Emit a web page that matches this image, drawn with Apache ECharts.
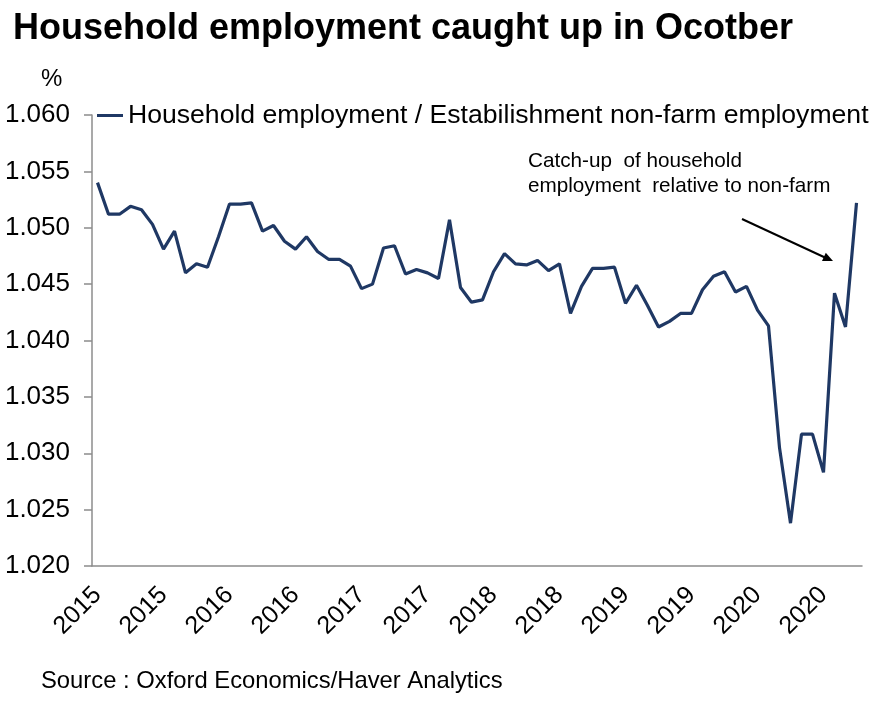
<!DOCTYPE html>
<html>
<head>
<meta charset="utf-8">
<script src="https://cdn.jsdelivr.net/npm/echarts@6/dist/echarts.min.js"></script>
<style>
  html, body { margin: 0; padding: 0; background: #fff; }
  #chart { width: 885px; height: 708px; }
</style>
</head>
<body>
<div id="chart"></div>
<script>
// monthly, Jan 2015 .. Oct 2020
let years = [2015, 2016, 2017, 2018, 2019, 2020]
let months = []
years.forEach(function (y) {
  for (let m = 1; m <= 12; m++) {
    if (y === 2020 && m > 10) break
    months.push(y + '-' + (m < 10 ? '0' + m : m))
  }
})

// Household employment / Establishment non-farm employment
let ratio = [
  1.0540, 1.0512, 1.0512, 1.0519, 1.0516, 1.0503, 1.0481, 1.0497, 1.0460, 1.0468, 1.0465, 1.0492,
  1.0521, 1.0521, 1.0522, 1.0497, 1.0502, 1.0488, 1.0481, 1.0492, 1.0479, 1.0472, 1.0472, 1.0466,
  1.0446, 1.0450, 1.0482, 1.0484, 1.0459, 1.0463, 1.0460, 1.0455, 1.0507, 1.0447, 1.0434, 1.0436,
  1.0461, 1.0477, 1.0468, 1.0467, 1.0471, 1.0462, 1.0468, 1.0424, 1.0448, 1.0464, 1.0464, 1.0465,
  1.0433, 1.0449, 1.0431, 1.0412, 1.0417, 1.0424, 1.0424, 1.0445, 1.0457, 1.0461, 1.0443, 1.0448,
  1.0427, 1.0413, 1.0305, 1.0238, 1.0317, 1.0317, 1.0283, 1.0442, 1.0412, 1.0522
]

let seriesName = 'Household employment / Estabilishment non-farm employment'
let lineColor = '#1f3864'
let axisColor = '#8c8c8c'
let font = '"Liberation Sans", Arial, sans-serif'

let chart = echarts.init(document.getElementById('chart'))
chart.setOption({
  backgroundColor: '#fff',
  animation: false,
  title: [
    {
      text: 'Household employment caught up in Ocotber',
      left: 8, top: 6,
      textStyle: { fontFamily: font, fontSize: 36, fontWeight: 'bold', color: '#000' }
    },
    {
      text: '%',
      left: 36, top: 62,
      textStyle: { fontFamily: font, fontSize: 24, fontWeight: 'normal', color: '#000' }
    },
    {
      text: 'Source : Oxford Economics/Haver Analytics',
      left: 36, top: 664,
      textStyle: { fontFamily: font, fontSize: 23.8, fontWeight: 'normal', color: '#000' }
    }
  ],
  legend: {
    left: 92, top: 97,
    icon: 'rect',
    itemWidth: 26, itemHeight: 3,
    itemGap: 5,
    textStyle: { fontFamily: font, fontSize: 26.6, color: '#000' },
    data: [seriesName]
  },
  grid: { left: 92, right: 23, top: 115, bottom: 142 },
  xAxis: {
    type: 'category',
    data: months,
    boundaryGap: true,
    axisLine: { lineStyle: { color: axisColor, width: 1.5 } },
    axisTick: { interval: 5, length: 7, lineStyle: { color: axisColor, width: 1.5 } },
    axisLabel: {
      interval: 5,
      rotate: 45,
      margin: 25,
      fontFamily: font,
      fontSize: 25,
      color: '#000',
      formatter: function (v) { return v.slice(0, 4) }
    },
    splitLine: { show: false }
  },
  yAxis: {
    type: 'value',
    min: 1.02, max: 1.06, interval: 0.005,
    axisLine: { show: true, lineStyle: { color: axisColor, width: 1.5 } },
    axisTick: { show: true, length: 8, lineStyle: { color: axisColor, width: 1.5 } },
    axisLabel: {
      margin: 22,
      fontFamily: font,
      fontSize: 26,
      color: '#000',
      formatter: function (v) { return v.toFixed(3) }
    },
    splitLine: { show: false }
  },
  series: [
    {
      name: seriesName,
      type: 'line',
      data: ratio,
      symbol: 'none',
      lineStyle: { color: lineColor, width: 3.2 },
      itemStyle: { color: lineColor }
    }
  ],
  graphic: [
    {
      type: 'text', left: 528, top: 149,
      style: {
        text: 'Catch-up  of household\nemployment  relative to non-farm',
        font: '20.7px ' + font, fill: '#000', lineHeight: 25
      }
    },
    {
      type: 'line',
      shape: { x1: 742, y1: 219, x2: 826, y2: 258 },
      style: { stroke: '#000', lineWidth: 2 }
    },
    {
      type: 'polygon',
      shape: { points: [[833, 261], [822, 261], [825.8, 252.7]] },
      style: { fill: '#000' }
    }
  ]
})
window.onresize = function () { chart.resize() }
</script>
</body>
</html>
